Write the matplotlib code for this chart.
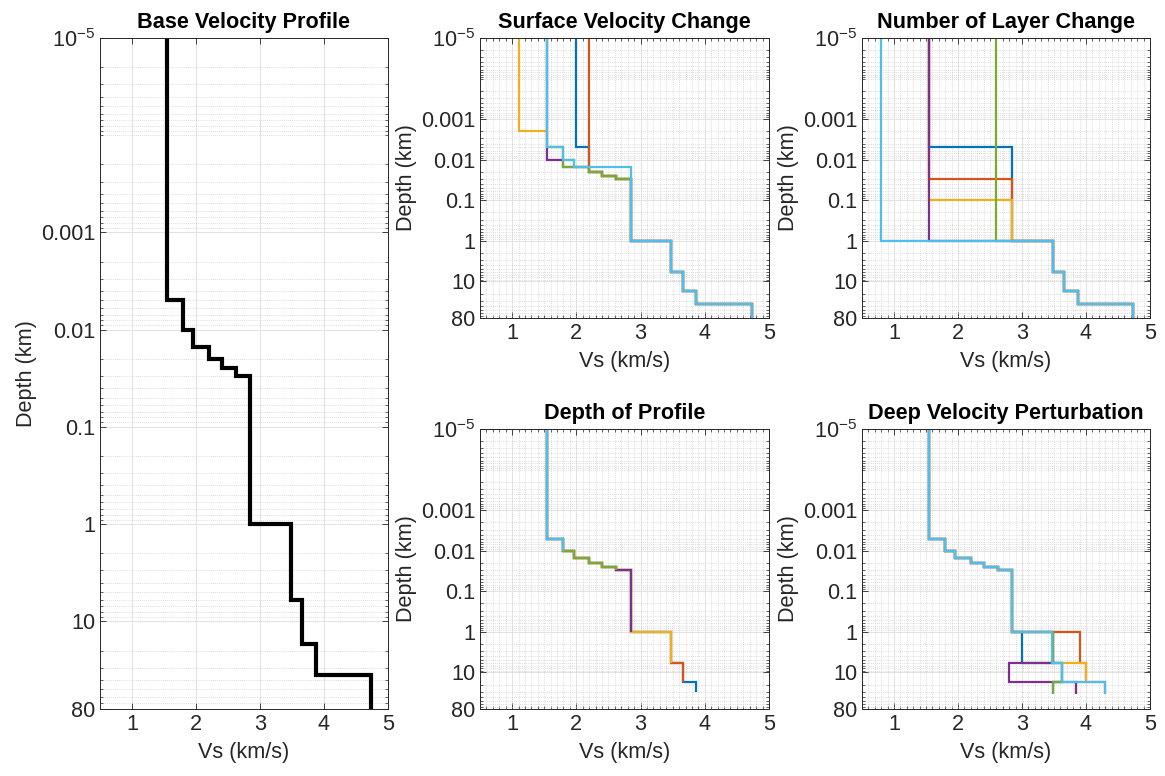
import matplotlib
matplotlib.use("Agg")
import matplotlib.pyplot as plt
import matplotlib.ticker as ticker

plt.rcParams["font.family"] = ["Liberation Sans", "DejaVu Sans"]
plt.rcParams["mathtext.default"] = "regular"
plt.rcParams["axes.unicode_minus"] = False

# MATLAB default line colours
colors = ["#0072BD", "#D95319", "#EDB120", "#7E2F8E", "#77AC30", "#4DBEEE"]

# base model: bottom depth of each layer (km) and shear velocity (km/s)
base_depth = [0.005, 0.01, 0.015, 0.02, 0.025, 0.03, 1, 6, 17, 36, 80]
base_vs = [1.55, 1.79, 1.96, 2.2, 2.4, 2.62, 2.85, 3.48, 3.66, 3.87, 4.74]

# surface velocity change
surf_depth = [
    [0.005, 0.01, 0.015, 0.02, 0.025, 0.03, 1, 6, 17, 36, 80],
    [0.005, 0.01, 0.015, 0.02, 0.025, 0.03, 1, 6, 17, 36, 80],
    [0.002, 0.005, 0.01, 0.015, 0.02, 0.025, 0.03, 1, 6, 17, 36, 80],
    [0.005, 0.01, 0.015, 0.02, 0.025, 0.03, 1, 6, 17, 36, 80],
    [0.005, 0.01, 0.015, 0.02, 0.025, 0.03, 1, 6, 17, 36, 80],
    [0.005, 0.01, 0.015, 0.02, 0.025, 0.03, 1, 6, 17, 36, 80],
]
surf_vs = [
    [2.0, 2.2, 2.2, 2.2, 2.4, 2.62, 2.85, 3.48, 3.66, 3.87, 4.74],
    [2.2, 2.2, 2.2, 2.2, 2.4, 2.62, 2.85, 3.48, 3.66, 3.87, 4.74],
    [1.11, 1.55, 1.79, 1.96, 2.2, 2.4, 2.62, 2.85, 3.48, 3.66, 3.87, 4.74],
    [1.55, 1.55, 1.79, 2.2, 2.4, 2.62, 2.85, 3.48, 3.66, 3.87, 4.74],
    [1.55, 1.79, 1.79, 2.2, 2.4, 2.62, 2.85, 3.48, 3.66, 3.87, 4.74],
    [1.55, 1.79, 1.96, 2.85, 2.85, 2.85, 2.85, 3.48, 3.66, 3.87, 4.74],
]

# number of layer change
layer_depth = [
    [0.005, 1, 6, 17, 36, 80],
    [0.03, 1, 6, 17, 36, 80],
    [0.1, 1, 6, 17, 36, 80],
    [1, 6, 17, 36, 80],
    [1, 6, 17, 36, 80],
    [1, 6, 17, 36, 80],
]
layer_vs = [
    [1.55, 2.85, 3.48, 3.66, 3.87, 4.74],
    [1.55, 2.85, 3.48, 3.66, 3.87, 4.74],
    [1.55, 2.85, 3.48, 3.66, 3.87, 4.74],
    [1.55, 3.48, 3.66, 3.87, 4.74],
    [2.6, 3.48, 3.66, 3.87, 4.74],
    [0.8, 3.48, 3.66, 3.87, 4.74],
]

# depth of profile
prof_depth = [
    [0.005, 0.01, 0.015, 0.02, 0.025, 0.03, 1, 6, 17, 31],
    [0.005, 0.01, 0.015, 0.02, 0.025, 0.03, 1, 6, 17],
    [0.005, 0.01, 0.015, 0.02, 0.025, 0.03, 1, 6],
    [0.005, 0.01, 0.015, 0.02, 0.025, 0.03, 1],
    [0.005, 0.01, 0.015, 0.02, 0.025, 0.03],
    [0.005, 0.01],
]
prof_vs = [
    [1.55, 1.79, 1.96, 2.2, 2.4, 2.62, 2.85, 3.48, 3.66, 3.87],
    [1.55, 1.79, 1.96, 2.2, 2.4, 2.62, 2.85, 3.48, 3.66],
    [1.55, 1.79, 1.96, 2.2, 2.4, 2.62, 2.85, 3.48],
    [1.55, 1.79, 1.96, 2.2, 2.4, 2.62, 2.85],
    [1.55, 1.79, 1.96, 2.2, 2.4, 2.62],
    [1.55, 1.79],
]

# deep velocity perturbation
deep_depth = [0.005, 0.01, 0.015, 0.02, 0.025, 0.03, 1, 6, 17, 34]
deep_vs = [
    [1.55, 1.79, 1.96, 2.2, 2.4, 2.62, 2.85, 3.0, 3.63, 3.48],
    [1.55, 1.79, 1.96, 2.2, 2.4, 2.62, 2.85, 3.9, 4.0, 4.3],
    [1.55, 1.79, 1.96, 2.2, 2.4, 2.62, 2.85, 3.48, 4.0, 3.85],
    [1.55, 1.79, 1.96, 2.2, 2.4, 2.62, 2.85, 3.48, 2.8, 3.85],
    [1.55, 1.79, 1.96, 2.2, 2.4, 2.62, 2.85, 3.48, 3.63, 3.49],
    [1.55, 1.79, 1.96, 2.2, 2.4, 2.62, 2.85, 3.47, 3.63, 4.3],
]

ytick_vals = [1e-5, 1e-3, 1e-2, 0.1, 1, 10, 80]
ytick_labels = ["$10^{-5}$", "0.001", "0.01", "0.1", "1", "10", "80"]
xtick_vals = [1, 2, 3, 4, 5]

FS = 15.6
AX_COLOR = "#262626"


def steps(bottoms, vs, top=1e-5):
    x, y = [], []
    prev = top
    for d, v in zip(bottoms, vs):
        x += [v, v]
        y += [prev, d]
        prev = d
    return x, y


def style_axes(ax, title, xminor):
    ax.set_yscale("log")
    ax.set_ylim(80, 1e-5)
    ax.set_xlim(0.5, 5)
    ax.set_yticks(ytick_vals)
    ax.set_yticklabels(ytick_labels)
    minors = [m * 10.0 ** e for e in range(-5, 2) for m in range(1, 10)
              if m * 10.0 ** e not in ytick_vals and m * 10.0 ** e < 80]
    ax.yaxis.set_minor_locator(ticker.FixedLocator(minors))
    ax.yaxis.set_minor_formatter(ticker.NullFormatter())
    ax.set_xticks(xtick_vals)
    if xminor:
        ax.xaxis.set_minor_locator(ticker.MultipleLocator(0.1))
    ax.grid(True, which="major", color="#e2e2e2", lw=0.7, ls="-")
    ax.grid(True, which="minor", axis="y", color="#d2d2d2", lw=0.6,
            ls=(0, (1, 1.5)))
    if xminor:
        ax.grid(True, which="minor", axis="x", color="#d2d2d2", lw=0.6,
                ls=(0, (1, 1.5)))
    ax.set_axisbelow(True)
    ax.tick_params(which="both", direction="in", top=True, right=True,
                   colors=AX_COLOR, labelsize=FS)
    ax.tick_params(which="major", length=4, width=0.6)
    ax.tick_params(which="minor", length=2, width=0.5)
    if not xminor:
        ax.tick_params(axis="x", which="minor", length=0)
    for s in ax.spines.values():
        s.set_color(AX_COLOR)
        s.set_linewidth(0.7)
    ax.set_title(title, fontsize=FS, fontweight="bold", pad=7)
    ax.set_xlabel("Vs (km/s)", fontsize=FS, color=AX_COLOR, labelpad=5)
    ax.set_ylabel("Depth (km)", fontsize=FS, color=AX_COLOR, labelpad=3)


fig = plt.figure(figsize=(11.65, 7.76), dpi=100)

ax0 = fig.add_axes([0.0858, 0.0863, 0.2472, 0.8647])
ax1 = fig.add_axes([0.4120, 0.5902, 0.2481, 0.3608])
ax2 = fig.add_axes([0.7399, 0.5902, 0.2472, 0.3608])
ax3 = fig.add_axes([0.4120, 0.0863, 0.2481, 0.3608])
ax4 = fig.add_axes([0.7399, 0.0863, 0.2472, 0.3608])

x, y = steps(base_depth, base_vs)
ax0.plot(x, y, color="black", lw=3, solid_joinstyle="miter")
style_axes(ax0, "Base Velocity Profile", False)

for ax, depths, vss, title in [
    (ax1, surf_depth, surf_vs, "Surface Velocity Change"),
    (ax2, layer_depth, layer_vs, "Number of Layer Change"),
    (ax3, prof_depth, prof_vs, "Depth of Profile"),
    (ax4, [deep_depth] * len(deep_vs), deep_vs, "Deep Velocity Perturbation"),
]:
    for i, (d, v) in enumerate(zip(depths, vss)):
        x, y = steps(d, v)
        ax.plot(x, y, color=colors[i], lw=1.6, solid_joinstyle="miter",
                solid_capstyle="butt")
    style_axes(ax, title, True)

fig.savefig("out.png", dpi=100)
